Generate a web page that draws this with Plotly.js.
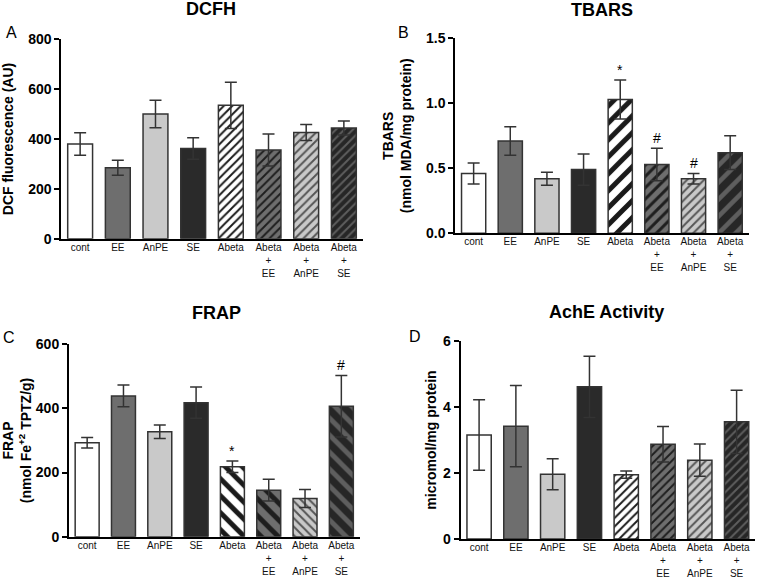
<!DOCTYPE html>
<html>
<head>
<meta charset="utf-8">
<script src="https://cdn.plot.ly/plotly-3.0.1.min.js"></script>
<style>html,body{margin:0;padding:0;background:#fff;}#chart{width:757px;height:579px;}</style>
</head>
<body>
<div id="chart"></div>
<script>
// ---- data ----
const categories = ["cont", "EE", "AnPE", "SE", "Abeta", "Abeta<br>+<br>EE", "Abeta<br>+<br>AnPE", "Abeta<br>+<br>SE"];

const dcfhMean = [380, 285, 500, 362, 535, 356, 426, 444];
const dcfhErr  = [45, 30, 55, 43, 93, 64, 32, 28];

const tbarsMean = [0.46, 0.71, 0.42, 0.49, 1.03, 0.53, 0.42, 0.62];
const tbarsErr  = [0.08, 0.11, 0.05, 0.12, 0.15, 0.125, 0.04, 0.13];
const tbarsMarks = ["", "", "", "", "*", "#", "#", ""];

const frapMean = [293, 439, 327, 418, 218, 145, 119, 407];
const frapErr  = [16, 34, 21, 49, 18, 34, 28, 96];
const frapMarks = ["", "", "", "", "*", "", "", "#"];

const acheMean = [3.15, 3.42, 1.96, 4.61, 1.95, 2.87, 2.39, 3.55];
const acheErr  = [1.07, 1.23, 0.47, 0.93, 0.11, 0.54, 0.49, 0.96];

// ---- styles ----
const W = 757, H = 579;
const FONT = "Liberation Sans, Arial, sans-serif";
const fillColors = ['#ffffff', '#6e6e6e', '#c9c9c9', '#2a2a2a', '#ffffff', '#6e6e6e', '#c9c9c9', '#262626'];
const fgColors   = [null, null, null, null, '#1a1a1a', '#1e1e1e', '#555555', '#5e5e5e'];

// hatch spec per bar: [shape, size, solidity] (null = solid)
function hatch(shape, sizes, sol) {
  return [null, null, null, null].concat(sizes.map((s, k) => [shape, s, sol[k]]));
}
const hatchA = hatch('/', [6, 6, 6, 6], [0.32, 0.32, 0.32, 0.32]);
const hatchB = hatch('/', [12, 8, 6, 12], [0.42, 0.38, 0.32, 0.38]);
const hatchC = hatch('\\', [12, 12, 6, 12], [0.42, 0.42, 0.32, 0.4]);
const hatchD = hatch('/', [6, 6, 6, 6], [0.32, 0.32, 0.32, 0.32]);

function panelTraces(mean, err, hatchSpec, xa, ya) {
  return categories.map((c, i) => {
    const h = hatchSpec[i];
    const marker = { color: fillColors[i], line: { color: '#333333', width: 1.5 } };
    if (h) {
      marker.pattern = { shape: h[0], size: h[1], solidity: h[2], bgcolor: fillColors[i], fgcolor: fgColors[i], fillmode: 'replace' };
    }
    return {
      type: 'bar', x: [c], y: [mean[i]], xaxis: xa, yaxis: ya, marker: marker,
      error_y: { type: 'data', array: [err[i]], visible: true, color: '#333333', thickness: 1.5, width: 6 },
      hoverinfo: 'x+y'
    };
  });
}

const data = [].concat(
  panelTraces(dcfhMean, dcfhErr, hatchA, 'x', 'y'),
  panelTraces(tbarsMean, tbarsErr, hatchB, 'x2', 'y2'),
  panelTraces(frapMean, frapErr, hatchC, 'x3', 'y3'),
  panelTraces(acheMean, acheErr, hatchD, 'x4', 'y4')
);

function px(x) { return x / W; }
function py(y) { return 1 - y / H; }

function xAxis(l, r, anchor) {
  return {
    domain: [px(l), px(r)], anchor: anchor, range: [-0.5, 7.5], type: 'category',
    showline: true, linewidth: 2, linecolor: '#000', ticks: '', showgrid: false, zeroline: false,
    tickfont: { family: FONT, size: 10, color: '#111' }, tickangle: 0, ticklabelstandoff: -2
  };
}
function yAxis(bottom, top, anchor, range, dtick, fmt, title, standoff) {
  return {
    domain: [py(bottom), py(top)], anchor: anchor, range: range, dtick: dtick, tick0: 0, tickformat: fmt,
    showline: true, linewidth: 2, linecolor: '#000', ticks: 'outside', ticklen: 5, tickwidth: 2, tickcolor: '#000',
    showgrid: false, zeroline: false,
    tickfont: { family: FONT, size: 14, color: '#000', weight: 'bold' },
    title: { text: title, font: { family: FONT, size: 14, color: '#000', weight: 'bold' }, standoff: standoff }
  };
}

const annotations = [];
function addText(text, x, y, size, bold) {
  annotations.push({ text: text, xref: 'paper', yref: 'paper', x: px(x), y: py(y), xanchor: 'center', yanchor: 'middle',
    showarrow: false, font: { family: FONT, size: size, color: '#000', weight: bold ? 'bold' : 'normal' } });
}
addText('DCFH', 211, 9, 18, true);
addText('TBARS', 602, 10, 18, true);
addText('FRAP', 216, 313, 18, true);
addText('AchE Activity', 606, 312, 18, true);
addText('A', 11, 33, 16, false);
addText('B', 403, 33, 16, false);
addText('C', 9, 337, 16, false);
addText('D', 415, 336, 16, false);

function addMarks(marks, mean, err, xa, ya) {
  marks.forEach((m, i) => {
    if (!m) return;
    annotations.push({ text: m, xref: xa, yref: ya, x: categories[i], y: mean[i] + err[i], xanchor: 'center', yanchor: 'bottom',
      showarrow: false, font: { family: FONT, size: 14, color: '#000' } });
  });
}
addMarks(tbarsMarks, tbarsMean, tbarsErr, 'x2', 'y2');
addMarks(frapMarks, frapMean, frapErr, 'x3', 'y3');

const layout = {
  width: W, height: H, margin: { l: 0, r: 0, t: 0, b: 0 },
  paper_bgcolor: '#fff', plot_bgcolor: 'rgba(0,0,0,0)', showlegend: false,
  barmode: 'overlay', bargap: 0.34,
  font: { family: FONT, color: '#000' },
  xaxis: xAxis(61.3, 362.7, 'y'),
  yaxis: yAxis(238.7, 39.3, 'x', [0, 800], 200, '', 'DCF fluorescence (AU)', 13),
  xaxis2: xAxis(455.3, 748.5, 'y2'),
  yaxis2: yAxis(233.3, 38.3, 'x2', [0, 1.5], 0.5, '.1f', 'TBARS<br>(nmol MDA/mg protein)', 11),
  xaxis3: xAxis(69, 359.5, 'y3'),
  yaxis3: yAxis(536.7, 344.3, 'x3', [0, 600], 200, '', 'FRAP<br>(nmol Fe<sup>+2</sup> TPTZ/g)', 4),
  xaxis4: xAxis(460.7, 755, 'y4'),
  yaxis4: yAxis(539, 341, 'x4', [0, 6], 2, '', 'micromol/mg protein', 3),
  annotations: annotations
};

Plotly.newPlot('chart', data, layout, { displayModeBar: false, staticPlot: true });
</script>
</body>
</html>
